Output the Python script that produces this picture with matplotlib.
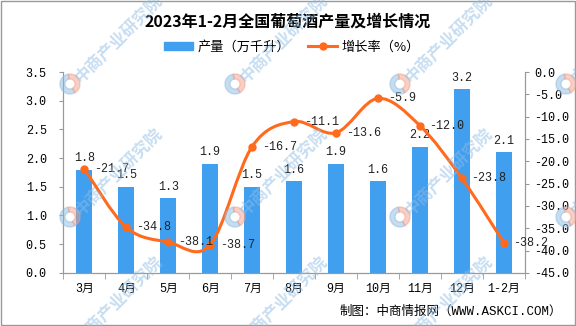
# 2023年1-2月全国葡萄酒产量及增长情况 - bar + smoothed line on twin axes

import numpy as np
import matplotlib.pyplot as plt
from matplotlib.path import Path
from matplotlib.patches import PathPatch, Patch, Wedge
from matplotlib.lines import Line2D

plt.rcParams['font.family'] = ['Liberation Mono', 'Noto Sans CJK SC', 'DejaVu Sans']

months = ['3月', '4月', '5月', '6月', '7月', '8月', '9月', '10月', '11月', '12月', '1-2月']
output = [1.8, 1.5, 1.3, 1.9, 1.5, 1.6, 1.9, 1.6, 2.2, 3.2, 2.1]
growth = [-21.7, -34.8, -38.1, -38.7, -16.7, -11.1, -13.6, -5.9, -12.0, -23.8, -38.2]

bar_color = '#419FEF'
line_color = '#FF6A1C'
axis_color = '#999999'

fig = plt.figure(figsize=(5.76, 3.26), dpi=100)
ax = fig.add_axes([0.110, 0.163, 0.801, 0.616])
ax2 = ax.twinx()

x = np.arange(len(months))
ax.bar(x, output, width=0.38, color=bar_color, zorder=2)
for xi, v in zip(x, output):
    ax.annotate(f'{v:.1f}', (xi, v), xytext=(0, 4), textcoords='offset points',
                ha='center', va='bottom', fontsize=8.5, color='#222222')

ax.set_xlim(-0.5, len(months) - 0.5)
ax.set_ylim(0, 3.5)
ax.set_yticks(np.arange(0, 3.51, 0.5))
ax.set_yticklabels([f'{t:.1f}' for t in np.arange(0, 3.51, 0.5)])
ax.set_xticks(x)
ax.set_xticklabels(months)
ax.set_xticks(np.arange(-0.5, len(months), 1), minor=True)
ax.tick_params(axis='x', which='major', length=0, pad=7, labelsize=8.5)
ax.tick_params(axis='x', which='minor', length=4, color=axis_color)
ax.tick_params(axis='y', length=3, color=axis_color, labelsize=8.5, pad=9)

ax2.set_ylim(-45, 0)
ax2.set_yticks(np.arange(-45, 0.1, 5))
ax2.set_yticklabels([f'{t:.1f}' for t in np.arange(-45, 0.1, 5)])
ax2.tick_params(axis='y', length=3, color=axis_color, labelsize=8.5, pad=4)

for a in (ax, ax2):
    a.spines['top'].set_visible(False)
    for s in ('left', 'right', 'bottom'):
        a.spines[s].set_color(axis_color)
        a.spines[s].set_linewidth(0.8)

# smoothed line (Bezier through the points, like Excel smoothing)
pts = list(zip(x.astype(float), growth))
verts = [pts[0]]
codes = [Path.MOVETO]
n = len(pts)
for i in range(n - 1):
    p0 = np.array(pts[max(i - 1, 0)])
    p1 = np.array(pts[i])
    p2 = np.array(pts[i + 1])
    p3 = np.array(pts[min(i + 2, n - 1)])
    c1 = p1 + (p2 - p0) / 6
    c2 = p2 - (p3 - p1) / 6
    verts += [tuple(c1), tuple(c2), tuple(p2)]
    codes += [Path.CURVE4] * 3
ax2.add_patch(PathPatch(Path(verts, codes), fill=False, edgecolor=line_color,
                        linewidth=2.2, zorder=3))
ax2.plot(x, growth, 'o', color=line_color, markersize=5, zorder=4)
for xi, v in zip(x, growth):
    ax2.annotate(f'{v:.1f}', (xi, v), xytext=(7, 0), textcoords='offset points',
                 ha='left', va='center', fontsize=8.5, color='#222222', zorder=5)

fig.text(0.5, 0.935, '2023年1-2月全国葡萄酒产量及增长情况', ha='center', va='center',
         fontsize=11.5, fontweight='bold', family=['Noto Sans CJK SC'])

handles = [Patch(color=bar_color),
           Line2D([], [], color=line_color, linewidth=2.2, marker='o', markersize=5)]
fig.legend(handles, ['产量（万千升）', '增长率（%）'], loc='center', bbox_to_anchor=(0.507, 0.855),
           ncol=2, frameon=False, handlelength=2.2, columnspacing=1.4, handletextpad=0.3,
           handleheight=0.6, prop={'family': ['Noto Sans CJK SC'], 'size': 9.5})

fig.text(0.975, 0.043, '制图：中商情报网（WWW.ASKCI.COM）', ha='right', va='center',
         fontsize=9)

# watermarks
wm_cols = [70, 235, 400, 566]
wm_rows = [84, 217, 345]
for cx in wm_cols:
    for cy in wm_rows:
        fig.text((cx + 8) / 576, 1 - (cy - 4) / 326, '中商产业研究院', rotation=45,
                 rotation_mode='anchor', ha='left', va='center', fontsize=12,
                 fontweight='bold', color='#8FBCE3', alpha=0.5,
                 family=['Noto Sans CJK SC'], zorder=10)
        fig.add_artist(Wedge((cx / 100, (326 - cy) / 100), 0.1, 100, 300, width=0.05,
                             color='#8FBCE3', alpha=0.5, transform=fig.dpi_scale_trans,
                             zorder=10))
        fig.add_artist(Wedge((cx / 100, (326 - cy) / 100), 0.1, -60, 100, width=0.05,
                             color='#F2A08A', alpha=0.5, transform=fig.dpi_scale_trans,
                             zorder=10))

fig.patches.append(plt.Rectangle((0.001, 0.002), 0.997, 0.996, transform=fig.transFigure,
                                 fill=False, edgecolor=axis_color, linewidth=1))

fig.savefig('out.png', dpi=100)
